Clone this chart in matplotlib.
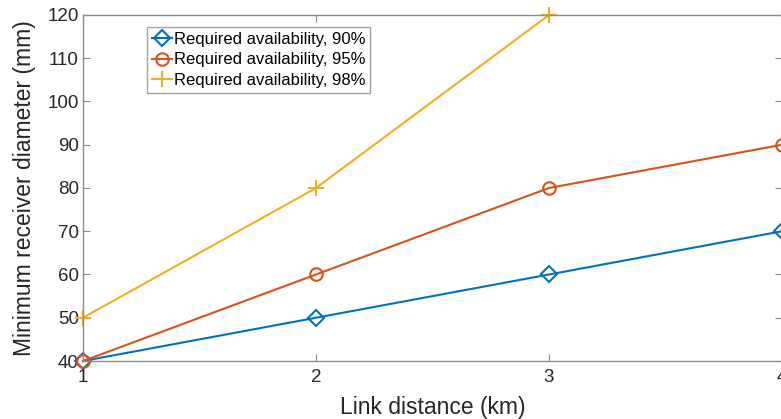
import numpy as np
import matplotlib
matplotlib.use('Agg')
import matplotlib.pyplot as plt

# data
distance = [1, 2, 3, 4]
avail_90 = [40, 50, 60, 70]
avail_95 = [40, 60, 80, 90]
distance_98 = [1, 2, 3]
avail_98 = [50, 80, 120]
labels = ['Required availability, 90%', 'Required availability, 95%', 'Required availability, 98%']

plt.rcParams['font.family'] = ['Liberation Sans', 'DejaVu Sans']

fig = plt.figure(figsize=(7.81, 4.19), dpi=100)
W, H = 781.0, 419.0
ax = fig.add_axes([83 / W, 1 - 361 / H, (782 - 83) / W, (361 - 15) / H])

ax.plot(distance, avail_90, color='#0072BD', lw=1.5, marker='D', ms=8,
        mfc='none', mew=1.5, label=labels[0], clip_on=False)
ax.plot(distance, avail_95, color='#D95319', lw=1.5, marker='o', ms=9,
        mfc='none', mew=1.5, label=labels[1], clip_on=False)
ax.plot(distance_98, avail_98, color='#EDB120', lw=1.5, marker='+', ms=11,
        mew=1.5, label=labels[2], clip_on=False)

ax.set_xlim(1, 4)
ax.set_ylim(40, 120)
ax.set_xticks([1, 2, 3, 4])
ax.set_yticks(np.arange(40, 121, 10))

for s in ax.spines.values():
    s.set_color('#8c8c8c')
    s.set_linewidth(1.0)
ax.tick_params(direction='in', top=True, right=True, length=5, width=0.8,
               color='#8c8c8c', labelsize=13.5, labelcolor='#262626')
ax.tick_params(axis='x', pad=6)
ax.tick_params(axis='y', pad=3)

ax.set_xlabel('Link distance (km)', fontsize=16.5, color='#262626', labelpad=7)
ax.set_ylabel('Minimum receiver diameter (mm)', fontsize=16.5, color='#262626', labelpad=8)

leg = ax.legend(loc='upper left', bbox_to_anchor=(0.092, 0.965), borderaxespad=0,
                fontsize=12, frameon=True, fancybox=False, edgecolor='#8c8c8c',
                handlelength=1.2, handletextpad=0.1, borderpad=0.3, labelspacing=0.32)
leg.get_frame().set_linewidth(1.0)

fig.savefig('out.png', dpi=100)
